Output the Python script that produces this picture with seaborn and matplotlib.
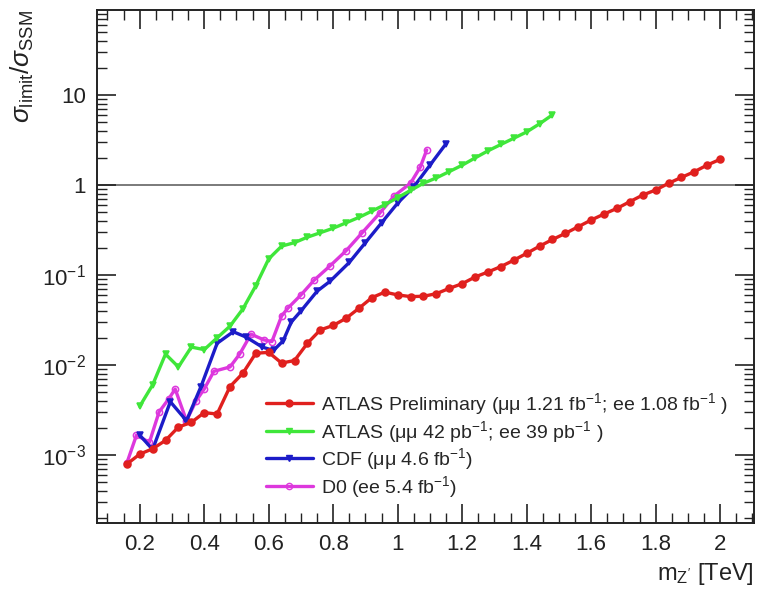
import matplotlib
matplotlib.use("Agg")
import matplotlib.pyplot as plt
import seaborn as sns
import pandas as pd
from matplotlib.ticker import LogLocator, MultipleLocator, FixedLocator, FixedFormatter, NullFormatter
from matplotlib.lines import Line2D

# --- limits on sigma_limit / sigma_SSM versus Z' mass (TeV) ---
atlas_prelim_mass = [0.16, 0.20, 0.24, 0.28, 0.32, 0.36, 0.40, 0.44, 0.48, 0.52,
                     0.56, 0.60, 0.64, 0.68, 0.72, 0.76, 0.80, 0.84, 0.88, 0.92,
                     0.96, 1.00, 1.04, 1.08, 1.12, 1.16, 1.20, 1.24, 1.28, 1.32,
                     1.36, 1.40, 1.44, 1.48, 1.52, 1.56, 1.60, 1.64, 1.68, 1.72,
                     1.76, 1.80, 1.84, 1.88, 1.92, 1.96, 2.00]
atlas_prelim_ratio = [7.9e-4, 1.02e-3, 1.17e-3, 1.45e-3, 2.04e-3, 2.3e-3, 2.95e-3, 2.85e-3, 5.75e-3, 8.1e-3,
                      1.35e-2, 1.38e-2, 1.05e-2, 1.12e-2, 1.74e-2, 2.45e-2, 2.75e-2, 3.3e-2, 4.27e-2, 5.6e-2,
                      6.45e-2, 6.0e-2, 5.75e-2, 5.8e-2, 6.2e-2, 7.1e-2, 8.0e-2, 9.5e-2, 0.108, 0.124,
                      0.146, 0.174, 0.209, 0.248, 0.29, 0.344, 0.408, 0.476, 0.55, 0.653,
                      0.774, 0.88, 1.045, 1.216, 1.406, 1.667, 1.93]

atlas_2010_mass = [0.20, 0.24, 0.28, 0.32, 0.36, 0.40, 0.44, 0.48, 0.52, 0.56,
                   0.60, 0.64, 0.68, 0.72, 0.76, 0.80, 0.84, 0.88, 0.92, 0.96,
                   1.00, 1.04, 1.08, 1.12, 1.16, 1.20, 1.24, 1.28, 1.32, 1.36,
                   1.40, 1.44, 1.48]
atlas_2010_ratio = [3.47e-3, 6.0e-3, 1.32e-2, 9.5e-3, 1.58e-2, 1.48e-2, 2.0e-2, 2.7e-2, 4.2e-2, 7.6e-2,
                    0.151, 0.209, 0.229, 0.263, 0.295, 0.331, 0.38, 0.437, 0.513, 0.603,
                    0.724, 0.871, 1.047, 1.20, 1.41, 1.66, 2.0, 2.4, 2.82, 3.31,
                    3.89, 4.79, 6.03]

cdf_mass = [0.20, 0.24, 0.295, 0.345, 0.39, 0.44, 0.49, 0.53, 0.58, 0.615, 0.645,
            0.67, 0.70, 0.75, 0.79, 0.85, 0.90, 0.95, 1.00, 1.05, 1.10, 1.15]
cdf_ratio = [1.66e-3, 1.15e-3, 3.9e-3, 2.4e-3, 5.75e-3, 1.74e-2, 2.34e-2, 2.04e-2, 1.58e-2, 1.45e-2, 1.86e-2,
             3.0e-2, 3.98e-2, 6.6e-2, 8.5e-2, 0.138, 0.229, 0.38, 0.63, 0.955, 1.66, 2.88]

d0_mass = [0.16, 0.19, 0.23, 0.26, 0.29, 0.31, 0.345, 0.375, 0.40, 0.43, 0.48,
           0.51, 0.545, 0.585, 0.61, 0.64, 0.66, 0.70, 0.74, 0.79, 0.84,
           0.89, 0.945, 0.99, 1.04, 1.07, 1.09]
d0_ratio = [8.1e-4, 1.66e-3, 1.38e-3, 3.0e-3, 4.2e-3, 5.4e-3, 2.4e-3, 4.0e-3, 5.4e-3, 8.5e-3, 9.5e-3,
            1.32e-2, 2.2e-2, 1.9e-2, 1.82e-2, 3.5e-2, 4.3e-2, 6.0e-2, 8.7e-2, 0.126, 0.186,
            0.295, 0.49, 0.76, 1.05, 1.58, 2.45]

series_labels = [
    r"ATLAS Preliminary (μμ 1.21 fb$^{-1}$; ee 1.08 fb$^{-1}$ )",
    r"ATLAS (μμ 42 pb$^{-1}$; ee 39 pb$^{-1}$ )",
    r"CDF (μμ 4.6 fb$^{-1}$)",
    r"D0 (ee 5.4 fb$^{-1}$)",
]

x_ticks = [0.2, 0.4, 0.6, 0.8, 1.0, 1.2, 1.4, 1.6, 1.8, 2.0]
x_tick_labels = ["0.2", "0.4", "0.6", "0.8", "1", "1.2", "1.4", "1.6", "1.8", "2"]
y_ticks = [1e-3, 1e-2, 1e-1, 1, 10]
y_tick_labels = [r"10$^{-3}$", r"10$^{-2}$", r"10$^{-1}$", "1", "10"]

sns.set_theme(style="ticks")
plt.rcParams["font.family"] = ["Liberation Sans", "DejaVu Sans"]
plt.rcParams["mathtext.fontset"] = "custom"
plt.rcParams["mathtext.rm"] = "Liberation Sans"
plt.rcParams["mathtext.it"] = "Liberation Sans:italic"
plt.rcParams["mathtext.bf"] = "Liberation Sans:bold"

fig = plt.figure(figsize=(7.71, 5.91), dpi=100)
ax = fig.add_axes([0.126, 0.115, 0.852, 0.868])

styles = [
    dict(color="#e0201e", marker="o", markersize=5, mfc="#e0201e", mec="#e0201e", lw=2.4),
    dict(color="#3fe63a", marker="v", markersize=4.5, mfc="#3fe63a", mec="#3fe63a", lw=2.4),
    dict(color="#1c1cc8", marker="v", markersize=4.5, mfc="#1c1cc8", mec="#1c1cc8", lw=2.4),
    dict(color="#dd38dd", marker="o", markersize=4.5, mfc="none", mec="#dd38dd", lw=2.4),
]
datasets = [
    (atlas_prelim_mass, atlas_prelim_ratio),
    (atlas_2010_mass, atlas_2010_ratio),
    (cdf_mass, cdf_ratio),
    (d0_mass, d0_ratio),
]

# draw in reverse so the ATLAS preliminary curve sits on top
for (m, r), st, lab in list(zip(datasets, styles, series_labels))[::-1]:
    df = pd.DataFrame({"mass": m, "ratio": r})
    sns.lineplot(data=df, x="mass", y="ratio", ax=ax, color=st["color"], lw=st["lw"],
                 marker=st["marker"], markersize=st["markersize"],
                 markerfacecolor=st["mfc"], markeredgecolor=st["mec"], markeredgewidth=1.1,
                 estimator=None, sort=False, legend=False)

ax.axhline(1.0, color="#707070", lw=1.3, zorder=0)

ax.set_yscale("log")
ax.set_xlim(0.068, 2.105)
ax.set_ylim(1.75e-4, 88)

ax.xaxis.set_major_locator(FixedLocator(x_ticks))
ax.xaxis.set_major_formatter(FixedFormatter(x_tick_labels))
ax.xaxis.set_minor_locator(MultipleLocator(0.05))
ax.yaxis.set_major_locator(FixedLocator(y_ticks))
ax.yaxis.set_major_formatter(FixedFormatter(y_tick_labels))
ax.yaxis.set_minor_locator(LogLocator(base=10, subs=range(2, 10)))
ax.yaxis.set_minor_formatter(NullFormatter())

ax.tick_params(which="both", direction="in", top=True, right=True, colors="#222222",
               labelsize=16, labelcolor="#222222")
ax.tick_params(which="major", length=14, width=1.2, pad=8)
ax.tick_params(which="minor", length=7, width=1.0)
for s in ax.spines.values():
    s.set_linewidth(1.4)
    s.set_color("#222222")

ax.set_xlabel(r"m$_{\mathrm{Z'}}$ [TeV]", fontsize=17, loc="right", color="#222222")
ax.set_ylabel(r"$\sigma_{\rm limit}/\sigma_{\rm SSM}$", fontsize=19, loc="top", color="#222222")

handles = [Line2D([0], [0], color=st["color"], lw=st["lw"], marker=st["marker"],
                  markersize=st["markersize"], markerfacecolor=st["mfc"],
                  markeredgecolor=st["mec"]) for st in styles]
ax.legend(handles, series_labels, loc="upper left", bbox_to_anchor=(0.245, 0.272),
          frameon=False, fontsize=14, handlelength=2.4, handletextpad=0.45,
          labelspacing=0.08, borderaxespad=0)

fig.savefig("out.png", dpi=100)
